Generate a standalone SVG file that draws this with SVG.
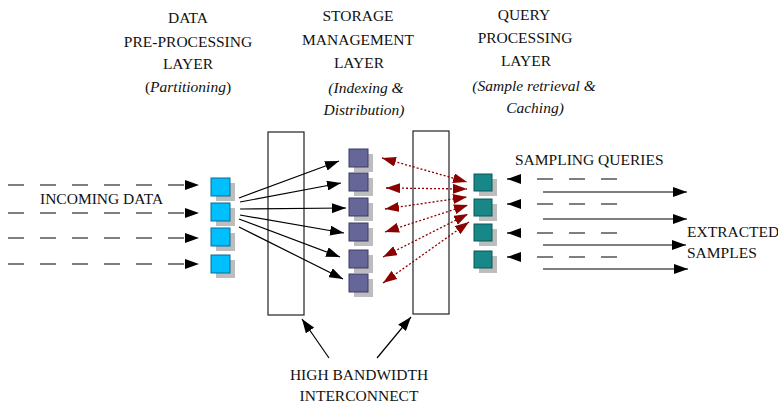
<svg xmlns="http://www.w3.org/2000/svg" width="778" height="404" viewBox="0 0 778 404">
<style>
text{font-family:"Liberation Serif","Times New Roman",serif;font-size:15.5px;fill:#111}
.c{text-anchor:middle}
.i{font-style:italic}
.sh{fill:#bdbdbd}
.blue{fill:#00bfff;stroke:#0a6a96;stroke-width:1}
.pur{fill:#666699;stroke:#3a3a66;stroke-width:1}
.teal{fill:#178787;stroke:#0b5656;stroke-width:1}
.bus{fill:#fff;stroke:#222;stroke-width:1.2}
.blk{stroke:#000;stroke-width:1.2;fill:none;marker-end:url(#ah)}
.dsh{stroke:#000;stroke-width:1.2;fill:none;stroke-dasharray:16 16;marker-end:url(#ah)}
.red{stroke:#8b0000;stroke-width:1.3;fill:none;stroke-dasharray:2 2;marker-start:url(#rh);marker-end:url(#rh)}
</style>
<defs>
<marker id="ah" markerUnits="userSpaceOnUse" markerWidth="14" markerHeight="10" refX="14" refY="5" orient="auto"><path d="M0,0 L14,5 L0,10 z" fill="#000"/></marker>
<marker id="rh" markerUnits="userSpaceOnUse" markerWidth="14" markerHeight="10" refX="14" refY="5" orient="auto-start-reverse"><path d="M0,0 L14,5 L0,10 z" fill="#8b0000"/></marker>
</defs>

<g id="titles">
<text class="c" x="188" y="23">DATA</text>
<text class="c" x="188" y="47">PRE-PROCESSING</text>
<text class="c" x="188" y="69">LAYER</text>
<text class="c" x="188" y="92">(<tspan class="i">Partitioning</tspan>)</text>
<text class="c" x="358" y="21">STORAGE</text>
<text class="c" x="358" y="45">MANAGEMENT</text>
<text class="c" x="359" y="68">LAYER</text>
<text class="c i" x="366" y="93">(Indexing &amp;</text>
<text class="c i" x="364" y="115">Distribution)</text>
<text class="c" x="524" y="20">QUERY</text>
<text class="c" x="525" y="43">PROCESSING</text>
<text class="c" x="526" y="66">LAYER</text>
<text class="c i" x="534" y="91">(Sample retrieval &amp;</text>
<text class="c i" x="535" y="113">Caching)</text>
</g>

<g id="bus-left"><rect class="bus" x="268" y="132" width="36" height="183"/></g>
<g id="bus-right"><rect class="bus" x="413" y="131" width="36" height="183"/></g>

<g id="pre-nodes">
<g id="pre1"><rect class="sh" x="216" y="183" width="19" height="18"/><rect class="blue" x="211" y="178" width="19" height="18"/></g>
<g id="pre2"><rect class="sh" x="216" y="208" width="19" height="18"/><rect class="blue" x="211" y="203" width="19" height="18"/></g>
<g id="pre3"><rect class="sh" x="216" y="233" width="19" height="18"/><rect class="blue" x="211" y="228" width="19" height="18"/></g>
<g id="pre4"><rect class="sh" x="216" y="260" width="19" height="18"/><rect class="blue" x="211" y="255" width="19" height="18"/></g>
</g>

<g id="storage-nodes">
<g id="st1"><rect class="sh" x="354" y="154" width="19" height="18"/><rect class="pur" x="349" y="149" width="19" height="18"/></g>
<g id="st2"><rect class="sh" x="354" y="178" width="19" height="18"/><rect class="pur" x="349" y="173" width="19" height="18"/></g>
<g id="st3"><rect class="sh" x="354" y="203" width="19" height="18"/><rect class="pur" x="349" y="198" width="19" height="18"/></g>
<g id="st4"><rect class="sh" x="354" y="228" width="19" height="18"/><rect class="pur" x="349" y="223" width="19" height="18"/></g>
<g id="st5"><rect class="sh" x="354" y="255" width="19" height="18"/><rect class="pur" x="349" y="250" width="19" height="18"/></g>
<g id="st6"><rect class="sh" x="354" y="279" width="19" height="18"/><rect class="pur" x="349" y="274" width="19" height="18"/></g>
</g>

<g id="query-nodes">
<g id="q1"><rect class="sh" x="479" y="179" width="18" height="17"/><rect class="teal" x="474" y="174" width="18" height="17"/></g>
<g id="q2"><rect class="sh" x="479" y="204" width="18" height="17"/><rect class="teal" x="474" y="199" width="18" height="17"/></g>
<g id="q3"><rect class="sh" x="479" y="229" width="18" height="17"/><rect class="teal" x="474" y="224" width="18" height="17"/></g>
<g id="q4"><rect class="sh" x="479" y="256" width="18" height="17"/><rect class="teal" x="474" y="251" width="18" height="17"/></g>
</g>

<g id="connectors">
<line class="dsh" x1="8" y1="185" x2="199" y2="185"/>
<line class="dsh" x1="8" y1="213" x2="199" y2="213"/>
<line class="dsh" x1="8" y1="238" x2="199" y2="238"/>
<line class="dsh" x1="8" y1="264" x2="199" y2="264"/>

<line class="blk" x1="239" y1="198" x2="339" y2="161"/>
<line class="blk" x1="240" y1="202" x2="341" y2="183"/>
<line class="blk" x1="240" y1="209" x2="346" y2="208"/>
<line class="blk" x1="240" y1="215" x2="344" y2="233"/>
<line class="blk" x1="239" y1="219" x2="340" y2="257"/>
<line class="blk" x1="239" y1="227" x2="343" y2="279"/>

<line class="red" x1="382" y1="158" x2="467" y2="182"/>
<line class="red" x1="386" y1="188" x2="467" y2="189"/>
<line class="red" x1="385" y1="209" x2="467" y2="197"/>
<line class="red" x1="385" y1="232" x2="468" y2="205"/>
<line class="red" x1="383" y1="257" x2="468" y2="214"/>
<line class="red" x1="383" y1="283" x2="469" y2="222"/>

<line class="dsh" x1="617" y1="179" x2="507" y2="179"/>
<line class="dsh" x1="617" y1="204" x2="507" y2="204"/>
<line class="dsh" x1="617" y1="233" x2="507" y2="233"/>
<line class="dsh" x1="617" y1="257" x2="507" y2="257"/>

<line class="blk" x1="543" y1="192" x2="687" y2="192"/>
<line class="blk" x1="543" y1="219" x2="687" y2="219"/>
<line class="blk" x1="543" y1="245" x2="686" y2="245"/>
<line class="blk" x1="543" y1="269" x2="688" y2="269"/>

<line class="blk" x1="329" y1="358" x2="302" y2="319"/>
<line class="blk" x1="377" y1="358" x2="411" y2="317"/>
</g>

<g id="labels">
<text x="40" y="204">INCOMING DATA</text>
<text x="515" y="165">SAMPLING QUERIES</text>
<text x="687" y="237">EXTRACTED</text>
<text x="687" y="258">SAMPLES</text>
<text class="c" x="359" y="380">HIGH BANDWIDTH</text>
<text class="c" x="359" y="401">INTERCONNECT</text>
</g>
</svg>
